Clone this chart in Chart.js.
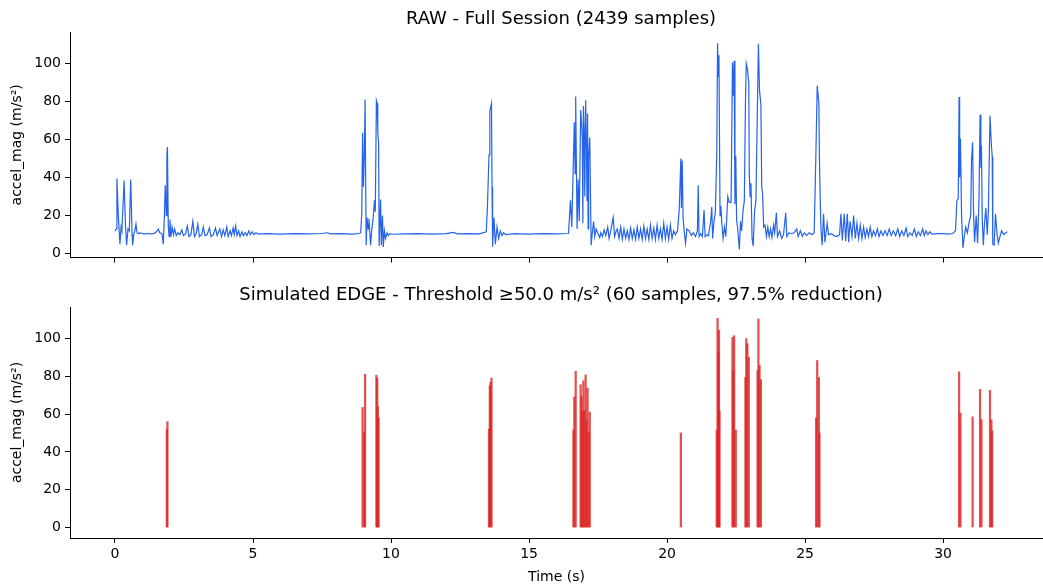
<!DOCTYPE html>
<html>
<head>
<meta charset="utf-8">
<script src="https://cdn.jsdelivr.net/npm/chart.js@4.4.1/dist/chart.umd.min.js"></script>
<style>
  body { margin: 0; background: #fff; }
  .panel { position: absolute; left: 0; width: 1043px; }
</style>
</head>
<body>
<div class="panel" style="top:0; height:270px;"><canvas id="rawChart"></canvas></div>
<div class="panel" style="top:270px; height:317px;"><canvas id="edgeChart"></canvas></div>
<script>
// Raw session (seconds, m/s²)
const rawTime = [
  0.00, 0.05, 0.07, 0.12, 0.18, 0.22, 0.25, 0.33, 0.38, 0.42, 0.47, 0.52, 0.57, 0.62, 0.64, 0.68, 0.72, 0.76, 0.80, 0.85,
  0.90, 1.00, 1.10, 1.20, 1.30, 1.40, 1.50, 1.57, 1.62, 1.70, 1.75, 1.79, 1.82, 1.86, 1.88, 1.90, 1.93, 1.96, 1.99, 2.03,
  2.07, 2.12, 2.16, 2.22, 2.28, 2.35, 2.42, 2.48, 2.56, 2.62, 2.68, 2.75, 2.82, 2.88, 2.94, 3.00, 3.06, 3.14, 3.20, 3.26,
  3.34, 3.42, 3.48, 3.56, 3.64, 3.70, 3.80, 3.86, 3.92, 3.98, 4.05, 4.10, 4.17, 4.22, 4.28, 4.32, 4.37, 4.42, 4.48, 4.53,
  4.60, 4.65, 4.72, 4.78, 4.85, 4.90, 4.97, 5.03, 5.10, 5.20, 5.50, 6.00, 6.50, 7.00, 7.50, 7.70, 7.80, 8.20, 8.60, 8.85,
  8.90, 8.94, 8.97, 9.00, 9.03, 9.06, 9.10, 9.13, 9.17, 9.20, 9.26, 9.30, 9.36, 9.40, 9.43, 9.47, 9.50, 9.52, 9.55, 9.57,
  9.62, 9.65, 9.69, 9.72, 9.76, 9.80, 9.86, 9.90, 9.96, 10.05, 10.5, 11.0, 11.5, 12.0, 12.26, 12.4, 12.8, 13.2, 13.45, 13.49,
  13.55, 13.58, 13.61, 13.64, 13.66, 13.68, 13.73, 13.78, 13.84, 13.90, 13.96, 14.02, 14.08, 14.15, 14.5, 15.0, 15.5, 16.0, 16.43, 16.50,
  16.55, 16.61, 16.64, 16.67, 16.69, 16.74, 16.78, 16.82, 16.87, 16.90, 16.93, 16.95, 16.97, 17.00, 17.02, 17.05, 17.08, 17.10, 17.12, 17.14,
  17.16, 17.20, 17.25, 17.30, 17.34, 17.38, 17.43, 17.50, 17.56, 17.60, 17.66, 17.72, 17.78, 17.85, 17.90, 17.96, 18.05, 18.10, 18.16, 18.20,
  18.26, 18.32, 18.38, 18.44, 18.50, 18.56, 18.62, 18.68, 18.74, 18.80, 18.86, 18.92, 18.98, 19.04, 19.10, 19.16, 19.22, 19.28, 19.34, 19.40,
  19.46, 19.52, 19.58, 19.64, 19.70, 19.76, 19.82, 19.88, 19.94, 20.00, 20.06, 20.12, 20.18, 20.24, 20.30, 20.38, 20.44, 20.50, 20.52, 20.55,
  20.58, 20.62, 20.67, 20.72, 20.80, 20.88, 20.95, 21.03, 21.10, 21.13, 21.16, 21.22, 21.28, 21.34, 21.38, 21.45, 21.50, 21.58, 21.62, 21.65,
  21.70, 21.75, 21.80, 21.83, 21.86, 21.88, 21.90, 21.92, 21.95, 21.98, 22.03, 22.08, 22.13, 22.20, 22.25, 22.32, 22.37, 22.40, 22.43, 22.46,
  22.49, 22.52, 22.56, 22.62, 22.66, 22.70, 22.75, 22.80, 22.84, 22.87, 22.91, 22.96, 22.98, 23.01, 23.04, 23.08, 23.12, 23.17, 23.22, 23.28,
  23.31, 23.35, 23.40, 23.43, 23.46, 23.50, 23.55, 23.60, 23.65, 23.70, 23.75, 23.80, 23.86, 23.90, 23.96, 24.00, 24.08, 24.15, 24.22, 24.30,
  24.34, 24.42, 24.50, 24.60, 24.70, 24.75, 24.83, 24.90, 24.97, 25.05, 25.15, 25.25, 25.33, 25.37, 25.40, 25.44, 25.50, 25.52, 25.55, 25.58,
  25.62, 25.67, 25.72, 25.80, 25.85, 25.95, 26.05, 26.15, 26.25, 26.30, 26.35, 26.42, 26.47, 26.53, 26.58, 26.63, 26.70, 26.76, 26.82, 26.88,
  26.94, 27.00, 27.06, 27.12, 27.18, 27.24, 27.30, 27.36, 27.42, 27.48, 27.55, 27.62, 27.68, 27.75, 27.82, 27.90, 27.97, 28.05, 28.12, 28.20,
  28.28, 28.36, 28.43, 28.50, 28.58, 28.66, 28.72, 28.80, 28.88, 28.96, 29.03, 29.10, 29.18, 29.26, 29.32, 29.38, 29.45, 29.52, 29.60, 29.80,
  30.00, 30.20, 30.35, 30.45, 30.50, 30.55, 30.58, 30.60, 30.63, 30.67, 30.72, 30.76, 30.82, 30.88, 30.95, 31.00, 31.03, 31.07, 31.10, 31.14,
  31.20, 31.25, 31.30, 31.34, 31.37, 31.39, 31.42, 31.46, 31.50, 31.55, 31.60, 31.64, 31.70, 31.75, 31.78, 31.80, 31.85, 31.90, 31.95, 32.00,
  32.06, 32.12, 32.20, 32.27, 32.33
];
const rawAccel = [
  12, 13, 39.5, 20, 5, 14, 12, 38.5, 15, 4.5, 13, 12, 39, 10, 4.5, 10, 12, 15.5, 11, 10.5,
  11, 10.5, 10.4, 10.6, 10.4, 10.5, 11.5, 13, 11, 10.5, 5, 20, 36, 20, 52, 56, 15, 9, 18, 9,
  14, 10, 13, 9.5, 11, 10, 12.5, 9.5, 10.5, 14.5, 9, 10, 17, 9, 10.5, 15.5, 9, 10, 14, 9.5,
  10, 13.5, 9, 10, 13.5, 9.5, 13, 9, 12.5, 9.5, 14, 9, 12, 9.5, 13.5, 10, 14.5, 9.5, 12, 9,
  11.5, 9.5, 11, 9.5, 12, 10, 11.5, 10, 11, 10.3, 10.5, 10.3, 10.5, 10.4, 10.6, 11, 10.4, 10.5, 10.3, 10.6,
  11, 21, 63.5, 35, 50.5, 81, 4.5, 19, 13, 18.5, 4.5, 12, 20, 28, 22, 80.5, 79, 64, 58, 4,
  28.5, 4.5, 20, 3.5, 12, 8, 11, 9.5, 10.5, 10.2, 10.4, 10.5, 10.3, 10.5, 11.2, 10.4, 10.5, 10.4, 11.5, 23.5,
  52, 75, 77, 79, 35, 3.7, 19, 5, 14, 8, 12, 9.5, 11, 10, 10.5, 10.3, 10.5, 10.4, 10.6, 28,
  14, 51.6, 69, 42, 82.6, 13, 39, 17, 75.5, 69.5, 61, 16, 77.6, 62, 30, 80.6, 57, 28, 73.7, 13,
  50.5, 61, 4.5, 12, 17, 9, 13, 10.5, 8.5, 11, 9, 12.5, 9.5, 14, 8, 12, 19, 9, 12, 13,
  8, 14, 7.5, 13, 8, 12, 7.5, 13.5, 8, 12.5, 7.5, 14, 8, 13, 7.5, 14.5, 8, 13, 7.5, 15,
  8, 13.5, 7.5, 15, 8, 13, 7.5, 16, 8, 14, 7.5, 15, 8, 12, 10, 12, 23, 50, 24, 49,
  19, 12, 5.5, 13, 12, 9.5, 11, 9, 12, 36, 9, 10.5, 9, 23, 9, 10, 9.5, 17, 24.5, 8,
  17, 22, 51.5, 110.6, 93, 104.3, 61.7, 20, 25, 17, 8, 14, 9, 30, 27, 27, 100.5, 83, 101.4, 26,
  51.6, 18, 13, 2.2, 17, 12, 22, 28, 79.3, 99.9, 97.2, 90, 42, 30, 37, 8, 4, 22, 28, 83,
  110.3, 85.8, 78.2, 35, 32, 14, 15, 9, 14, 9, 13, 8.5, 15, 11, 21.5, 9, 12, 8, 10, 21.5,
  9, 11, 10.5, 11, 13, 9, 12, 9, 11, 9.5, 11, 10, 11, 37, 58, 88.3, 79.3, 50, 28, 12,
  4.5, 21, 6, 16, 10, 10.5, 9.5, 9, 10, 21, 7, 21, 6.5, 21, 6, 17, 9, 20, 8, 16,
  8, 15, 8, 14, 8.5, 13, 9, 14, 9, 12, 9.5, 13, 9, 12, 9.5, 12, 9.5, 13, 9.5, 12,
  9.5, 13, 9, 12, 9.5, 13.5, 9, 11, 9.5, 13, 9, 11.5, 9.5, 13, 9.5, 12, 10, 11.5, 10.3, 10.5,
  10.5, 10.3, 10.6, 12, 28, 29, 82.3, 40, 60.5, 20, 3, 8, 14, 11, 17, 20, 49, 58.5, 24, 6,
  20, 5.5, 28, 73, 45, 57, 17, 4.5, 16, 24, 10, 22, 72.5, 57, 51, 5, 4.5, 21, 11, 5.5,
  9, 12, 10, 11, 11.5
];

// Samples kept by the edge threshold (>= 50 m/s²)
const edgeTime = [
  1.88, 1.90, 8.97, 9.03, 9.06, 9.47, 9.50, 9.52, 9.55, 13.55, 13.58, 13.61, 13.64,
  16.61, 16.64, 16.69, 16.87, 16.90, 16.93, 16.97, 17.00, 17.05, 17.08, 17.12, 17.16, 17.20,
  20.50, 21.80, 21.83, 21.86, 21.88, 21.90, 22.37, 22.40, 22.43, 22.49,
  22.84, 22.87, 22.91, 22.96, 23.28, 23.31, 23.35, 23.40, 25.40, 25.44, 25.50, 25.52,
  30.58, 30.63, 31.07, 31.34, 31.39, 31.70, 31.75, 31.78
];
const edgeAccel = [
  52, 56, 63.5, 50.5, 81, 80.5, 79, 64, 58, 52, 75, 77, 79,
  51.6, 69, 82.6, 75.5, 69.5, 61, 77.6, 62, 80.6, 57, 73.7, 50.5, 61,
  50, 51.5, 110.6, 93, 104.3, 61.7, 100.5, 83, 101.4, 51.6,
  79.3, 99.9, 97.2, 90, 83, 110.3, 85.8, 78.2, 58, 88.3, 79.3, 50,
  82.3, 60.5, 58.5, 73, 57, 72.5, 57, 51
];

const xTicks = [0, 5, 10, 15, 20, 25, 30];
const yTicks = [0, 20, 40, 60, 80, 100];

const FONT = '"DejaVu Sans", sans-serif';

// Subplot title drawn centred over the axes
const panelTitle = {
  id: 'panelTitle',
  afterDraw(chart, args, opts) {
    const ctx = chart.ctx;
    ctx.save();
    ctx.font = '18px ' + FONT;
    ctx.fillStyle = '#000';
    ctx.textAlign = 'center';
    ctx.textBaseline = 'middle';
    ctx.fillText(opts.text, opts.x, opts.y);
    ctx.restore();
  }
};

function xScale(showLabels, axisHeight) {
  return {
    type: 'linear',
    min: -1.63,
    max: 33.62,
    offset: false,
    afterBuildTicks: s => { s.ticks = xTicks.map(v => ({ value: v })); },
    afterFit: s => { s.height = axisHeight; },
    grid: { display: true, drawOnChartArea: false, drawTicks: true, tickLength: 5, tickColor: '#000', offset: false },
    border: { display: true, color: '#000', width: 1 },
    ticks: { display: showLabels, color: '#000', font: { family: FONT, size: 14 }, padding: 3, maxRotation: 0 },
    title: showLabels
      ? { display: true, text: 'Time (s)', color: '#000', font: { family: FONT, size: 14 }, padding: { top: 0, bottom: 1 } }
      : { display: false }
  };
}

function yScale(min, max) {
  return {
    min: min,
    max: max,
    afterBuildTicks: s => { s.ticks = yTicks.map(v => ({ value: v })); },
    afterFit: s => { s.width = 70; },
    grid: { display: true, drawOnChartArea: false, drawTicks: true, tickLength: 5, tickColor: '#000' },
    border: { display: true, color: '#000', width: 1 },
    ticks: { color: '#000', font: { family: FONT, size: 14 }, padding: 4 },
    title: { display: true, text: 'accel_mag (m/s²)', color: '#000', font: { family: FONT, size: 14 }, padding: { top: 9, bottom: 0 } }
  };
}

// RAW chart
new Chart(document.getElementById('rawChart'), {
  type: 'line',
  data: {
    datasets: [{
      data: rawTime.map((t, i) => ({ x: t, y: rawAccel[i] })),
      borderColor: '#2563eb',
      borderWidth: 1.2,
      pointRadius: 0,
      tension: 0,
      fill: false
    }]
  },
  options: {
    responsive: true,
    maintainAspectRatio: false,
    animation: false,
    events: [],
    layout: { padding: { top: 32, left: 0, right: 0, bottom: 0 } },
    plugins: {
      legend: { display: false },
      tooltip: { enabled: false },
      panelTitle: { text: 'RAW - Full Session (2439 samples)', x: 561, y: 19 }
    },
    scales: { x: xScale(false, 8), y: yScale(-2.06, 116.5) }
  },
  plugins: [panelTitle]
});

// EDGE chart
new Chart(document.getElementById('edgeChart'), {
  type: 'bar',
  data: {
    datasets: [{
      data: edgeTime.map((t, i) => ({ x: t, y: edgeAccel[i] })),
      backgroundColor: 'rgba(220, 38, 38, 0.8)',
      borderWidth: 0,
      barThickness: 1.6
    }]
  },
  options: {
    responsive: true,
    maintainAspectRatio: false,
    animation: false,
    events: [],
    layout: { padding: { top: 37, left: 0, right: 0, bottom: 0 } },
    plugins: {
      legend: { display: false },
      tooltip: { enabled: false },
      panelTitle: { text: 'Simulated EDGE - Threshold ≥50.0 m/s² (60 samples, 97.5% reduction)', x: 561, y: 25 }
    },
    scales: { x: xScale(true, 49), y: yScale(-5.55, 116.6) }
  },
  plugins: [panelTitle]
});
</script>
</body>
</html>
